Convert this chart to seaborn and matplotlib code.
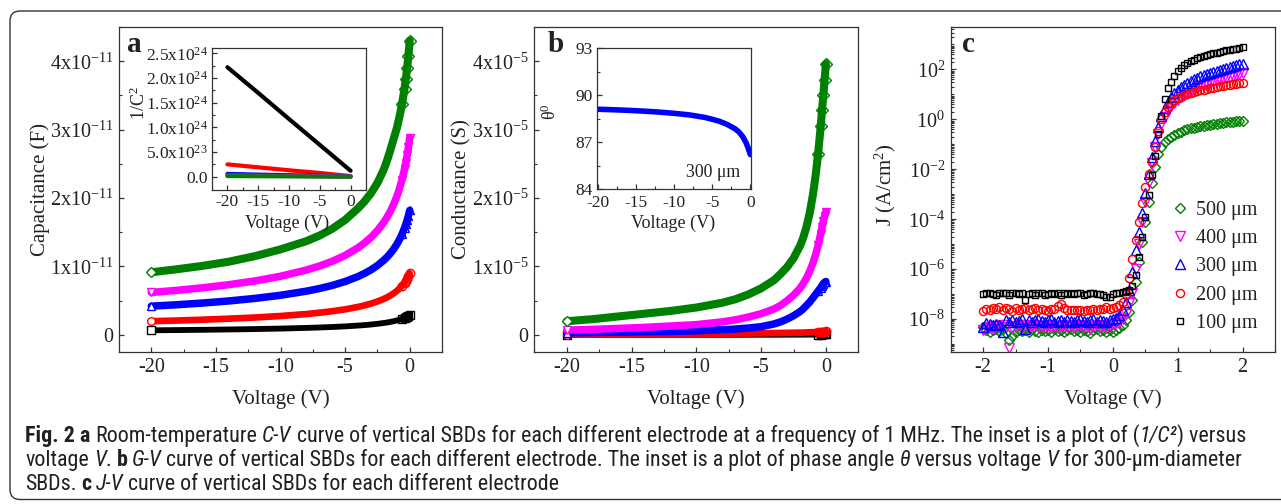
import numpy as np
import matplotlib
matplotlib.use("Agg")
import matplotlib.pyplot as plt
import seaborn as sns
from matplotlib import font_manager as fm
from matplotlib.ticker import MultipleLocator, FixedLocator, FuncFormatter, LogLocator, NullFormatter
from matplotlib.patches import FancyBboxPatch
from matplotlib.transforms import IdentityTransform

# ---------------- data ----------------
labels = ['500 μm', '400 μm', '300 μm', '200 μm', '100 μm']
colors = ['#008000', '#ff00ff', '#0000ff', '#ff0000', '#000000']
markers = ['D', 'v', '^', 'o', 's']

# (a) C-V, capacitance in units of 1e-11 F
V_cv = [-20, -18, -16, -14, -12, -10, -8, -7, -6, -5, -4, -3.5, -3, -2.5, -2,
        -1.75, -1.5, -1.25, -1, -0.8, -0.6, -0.4, -0.3, -0.2, -0.1, 0]
cap_500 = [0.915, 0.96, 1.01, 1.07, 1.15, 1.25, 1.37, 1.45, 1.55, 1.68, 1.85, 1.95, 2.07,
           2.22, 2.42, 2.55, 2.70, 2.86, 3.02, 3.18, 3.37, 3.60, 3.74, 3.90, 4.08, 4.30]
cap_400 = [0.62, 0.652, 0.689, 0.734, 0.788, 0.857, 0.948, 1.006, 1.075, 1.162, 1.273, 1.343,
           1.425, 1.524, 1.647, 1.721, 1.806, 1.905, 2.022, 2.133, 2.265, 2.424, 2.517, 2.622,
           2.742, 2.88]
cap_300 = [0.42, 0.441, 0.466, 0.496, 0.533, 0.579, 0.639, 0.677, 0.723, 0.780, 0.853, 0.898,
           0.950, 1.014, 1.092, 1.138, 1.191, 1.252, 1.324, 1.391, 1.470, 1.563, 1.617, 1.677,
           1.744, 1.82]
cap_200 = [0.20, 0.210, 0.222, 0.237, 0.254, 0.276, 0.305, 0.324, 0.346, 0.373, 0.409, 0.431,
           0.457, 0.488, 0.526, 0.549, 0.576, 0.606, 0.642, 0.677, 0.717, 0.765, 0.793, 0.824,
           0.859, 0.90]
cap_100 = [0.067, 0.0705, 0.0745, 0.0793, 0.0851, 0.0924, 0.1021, 0.1081, 0.1155, 0.1245,
           0.1361, 0.1432, 0.1516, 0.1617, 0.1741, 0.1814, 0.1898, 0.1995, 0.2108, 0.2214,
           0.2338, 0.2485, 0.2569, 0.2663, 0.2768, 0.2887]

# (a inset) 1/C^2 in units of 1e24
V_inv = [-20, -15, -10, -5, 0]
invc2_500 = [0.012, 0.009, 0.0064, 0.0034, 0.0005]
invc2_400 = [0.026, 0.020, 0.014, 0.0075, 0.0012]
invc2_300 = [0.057, 0.042, 0.030, 0.016, 0.003]
invc2_200 = [0.25, 0.19, 0.13, 0.075, 0.012]
invc2_100 = [2.22, 1.70, 1.17, 0.645, 0.12]

# (b) G-V, conductance in units of 1e-5 S
cond_500 = [0.20, 0.23, 0.27, 0.31, 0.35, 0.40, 0.47, 0.52, 0.59, 0.68, 0.80, 0.89, 0.99,
            1.12, 1.30, 1.42, 1.58, 1.78, 2.05, 2.32, 2.65, 3.05, 3.28, 3.50, 3.73, 3.96]
cond_400 = [0.07, 0.08, 0.095, 0.11, 0.13, 0.15, 0.19, 0.22, 0.26, 0.31, 0.38, 0.43, 0.50,
            0.58, 0.68, 0.75, 0.83, 0.93, 1.05, 1.17, 1.31, 1.48, 1.57, 1.66, 1.74, 1.80]
cond_300 = [0.03, 0.035, 0.04, 0.045, 0.05, 0.06, 0.075, 0.085, 0.10, 0.12, 0.16, 0.19, 0.23,
            0.28, 0.34, 0.38, 0.43, 0.48, 0.54, 0.59, 0.64, 0.69, 0.72, 0.75, 0.77, 0.78]
cond_200 = [0.005, 0.006, 0.007, 0.009, 0.011, 0.014, 0.017, 0.019, 0.021, 0.024, 0.027,
            0.028, 0.03, 0.031, 0.033, 0.034, 0.036, 0.038, 0.04, 0.042, 0.044, 0.046, 0.047,
            0.048, 0.049, 0.05]
cond_100 = [0.0, 0.0, 0.0, 0.0, 0.001, 0.001, 0.001, 0.001, 0.002, 0.002, 0.002, 0.002, 0.003,
            0.003, 0.003, 0.003, 0.004, 0.004, 0.004, 0.005, 0.005, 0.005, 0.006, 0.006, 0.006,
            0.007]

# (b inset) phase angle of the 300 um diode
V_theta = [-20, -18, -16, -14, -12, -10, -8, -6, -5, -4, -3, -2, -1.5, -1, -0.6, -0.3, 0]
theta_300 = [89.10, 89.07, 89.03, 88.98, 88.92, 88.84, 88.74, 88.58, 88.46, 88.32, 88.12,
             87.85, 87.65, 87.35, 87.00, 86.65, 86.20]

# (c) J-V, log10(J / A cm^-2), V from -2 to 2 in 0.05 V steps
V_jv = np.linspace(-2.0, 2.0, 81)
logJ_500 = [-8.3, -8.42, -8.5, -8.45, -8.38, -8.48, -8.4, -8.55, -8.85, -8.68,
            -8.5, -8.42, -8.48, -8.45, -8.52, -8.4, -8.46, -8.5, -8.42, -8.48,
            -8.44, -8.52, -8.4, -8.47, -8.43, -8.5, -8.45, -8.4, -8.48, -8.44,
            -8.5, -8.42, -8.46, -8.55, -8.45, -8.4, -8.48, -8.45, -8.5, -8.43,
            -8.52, -8.45, -8.35,
            -8.25, -8.05, -7.7, -7.25, -6.5, -5.7, -4.9, -4.1, -3.3, -2.55,
            -1.9, -1.4, -1.1, -0.9, -0.8, -0.72, -0.62, -0.55, -0.49, -0.44,
            -0.4, -0.36, -0.33, -0.3, -0.27, -0.25, -0.23, -0.21, -0.19, -0.17,
            -0.15, -0.13, -0.12, -0.1, -0.09, -0.07, -0.06, -0.05]
logJ_400 = [-8.45, -8.35, -8.3, -8.4, -8.28, -8.32, -8.25, -8.3, -9.15, -8.35,
            -8.28, -8.22, -8.3, -8.25, -8.33, -8.28, -8.22, -8.3, -8.26, -8.32,
            -8.24, -8.3, -8.27, -8.35, -8.28, -8.22, -8.3, -8.25, -8.32, -8.28,
            -8.24, -8.3, -8.27, -8.38, -8.3, -8.25, -8.33, -8.28, -8.35, -8.25,
            -8.2, -8.15, -8.1,
            -8.0, -7.8, -7.35, -6.95, -6.0, -5.0, -4.1, -3.3, -2.5, -1.75,
            -1.1, -0.6, -0.2, 0.1, 0.35, 0.52, 0.67, 0.78, 0.88, 0.97,
            1.05, 1.12, 1.19, 1.25, 1.31, 1.36, 1.41, 1.46, 1.5, 1.54,
            1.58, 1.62, 1.66, 1.7, 1.74, 1.78, 1.82, 1.86]
logJ_300 = [-8.32, -8.15, -8.2, -8.22, -8.18, -8.25, -8.5, -8.05, -8.1, -8.02,
            -8.12, -8.08, -8.0, -8.4, -8.05, -8.1, -8.03, -7.98, -8.08, -8.12,
            -8.05, -8.0, -8.1, -8.06, -8.02, -8.1, -8.04, -8.08, -8.12, -8.05,
            -8.0, -8.08, -8.1, -8.03, -8.0, -8.1, -8.05, -8.08, -8.12, -8.02,
            -7.98, -7.95, -7.85,
            -7.65, -7.3, -6.85, -6.1, -5.25, -4.5, -3.75, -2.95, -2.2, -1.5,
            -0.85, -0.3, 0.15, 0.45, 0.68, 0.88, 1.04, 1.17, 1.28, 1.38,
            1.46, 1.53, 1.6, 1.66, 1.72, 1.77, 1.82, 1.87, 1.91, 1.95,
            1.99, 2.03, 2.06, 2.1, 2.13, 2.17, 2.2, 2.23]
logJ_200 = [-7.68, -7.58, -7.62, -7.55, -7.6, -7.52, -7.63, -7.57, -7.6, -7.66,
            -7.55, -7.62, -7.58, -7.54, -7.63, -7.6, -7.56, -7.65, -7.59, -7.62,
            -7.66, -7.6, -7.58, -7.48, -7.4, -7.55, -7.63, -7.65, -7.62, -7.64,
            -7.63, -7.66, -7.62, -7.64, -7.6, -7.63, -7.58, -7.61, -7.52, -7.6,
            -7.55, -7.5, -7.45,
            -7.3, -7.0, -6.35, -5.6, -4.85, -4.1, -3.35, -2.72, -2.2, -1.7,
            -1.1, -0.45, 0.0, 0.3, 0.5, 0.65, 0.76, 0.84, 0.91, 0.97,
            1.02, 1.06, 1.1, 1.13, 1.16, 1.19, 1.22, 1.25, 1.27, 1.3,
            1.32, 1.34, 1.36, 1.38, 1.4, 1.42, 1.44, 1.46]
logJ_100 = [-7.0, -6.97, -6.96, -6.98, -7.03, -6.95, -6.94, -6.97, -7.04, -6.96,
            -6.95, -6.99, -6.96, -7.24, -6.98, -6.95, -7.02, -6.97, -6.96, -7.03,
            -6.98, -6.95, -7.0, -6.97, -7.02, -6.96, -6.99, -6.95, -7.01, -6.97,
            -6.96, -7.03, -6.98, -6.97, -6.95, -7.0, -6.99, -7.05, -7.12, -7.1,
            -6.98, -6.95, -6.94,
            -6.92, -6.88, -6.82, -6.68, -6.25, -5.5, -4.7, -3.9, -3.05, -2.23,
            -1.45, -0.6, 0.15, 0.8, 1.25, 1.5, 1.73, 1.92, 2.06, 2.17,
            2.26, 2.33, 2.39, 2.45, 2.5, 2.54, 2.58, 2.61, 2.64, 2.67,
            2.7, 2.73, 2.76, 2.78, 2.81, 2.83, 2.86, 2.88]

# ---------------- style ----------------
sns.set_style("ticks")
INK = '#222222'
plt.rcParams.update({
    'font.family': ['Liberation Serif', 'DejaVu Serif'],
    'mathtext.fontset': 'custom',
    'mathtext.rm': 'Liberation Serif',
    'mathtext.it': 'Liberation Serif:italic',
    'mathtext.bf': 'Liberation Serif:bold',
    'axes.unicode_minus': False,
    'axes.edgecolor': '#333333',
    'axes.linewidth': 0.9,
    'text.color': INK,
    'axes.labelcolor': INK,
    'xtick.color': '#333333',
    'ytick.color': '#333333',
    'xtick.labelcolor': INK,
    'ytick.labelcolor': INK,
})

W, H = 1281, 504
fig = plt.figure(figsize=(W / 100, H / 100), dpi=100)
fig.patch.set_facecolor('white')


def ax_px(l, t, r, b):
    return fig.add_axes([l / W, 1 - b / H, (r - l) / W, (b - t) / H])


def style(ax, size, xmaj, xmin, ymaj=None, ymin=None, pad=4):
    ax.tick_params(which='both', direction='in', top=False, right=False,
                   labelsize=size, pad=pad)
    ax.tick_params(which='major', length=3.8, width=0.9)
    ax.tick_params(which='minor', length=2.2, width=0.8)
    ax.xaxis.set_major_locator(MultipleLocator(xmaj))
    ax.xaxis.set_minor_locator(MultipleLocator(xmin))
    if ymaj is not None:
        ax.yaxis.set_major_locator(MultipleLocator(ymaj))
        ax.yaxis.set_minor_locator(MultipleLocator(ymin))
    for s in ax.spines.values():
        s.set_visible(True)
        s.set_linewidth(0.9)
        s.set_color('#333333')


def sci_fmt(exp):
    def f(v, p):
        if abs(v) < 1e-40:
            return '0'
        return f"{v / 10 ** exp:.0f}x10$^{{{exp}}}$"
    return FuncFormatter(f)


def inv_fmt(v, p):
    if v <= 1e10:
        return '0.0' if abs(v) <= 1e10 else ''
    e = int(np.floor(np.log10(v) + 1e-9))
    return f"{v / 10 ** e:.1f}x10$^{{{e}}}$"


axA = ax_px(119, 27, 442, 352)
axB = ax_px(534.3, 27, 858.3, 352)
axC = ax_px(950.7, 27, 1275, 352)

TICK = 14.5
LAB = 15

# ---------------- panel a ----------------
cap_sets = [cap_500, cap_400, cap_300, cap_200, cap_100]
lws = [5.8, 5.4, 5.4, 4.8, 4.2]
for vals, c, m, lw in zip(cap_sets, colors, markers, lws):
    y = np.array(vals) * 1e-11
    sns.lineplot(x=V_cv, y=y, ax=axA, color=c, lw=lw, solid_capstyle='round',
                 marker=m, markersize=6, markerfacecolor='none', markeredgecolor=c,
                 markeredgewidth=1.0, markevery=list(range(20, len(V_cv))),
                 estimator=None, sort=False, legend=False)
    sns.lineplot(x=V_cv[:1], y=y[:1], ax=axA, color=c, lw=0, marker=m, markersize=5.5,
                 markerfacecolor='white', markeredgecolor=c, markeredgewidth=1.0,
                 estimator=None, sort=False, legend=False)
axA.set_xlim(-22.5, 2.5)
axA.set_ylim(-0.25e-11, 4.5e-11)
style(axA, TICK, 5, 2.5, 1e-11, 0.5e-11)
axA.yaxis.set_major_formatter(sci_fmt(-11))
axA.set_xlabel('Voltage (V)', fontsize=LAB)
axA.set_ylabel('Capacitance (F)', fontsize=LAB)
axA.xaxis.set_label_coords(0.5, -0.114)
axA.yaxis.set_label_coords(-0.215, 0.5)
axA.text(0.024, 0.923, 'a', transform=axA.transAxes, fontsize=21, fontweight='bold',
         va='baseline', ha='left')

# inset a
insA = ax_px(212, 48, 366, 190)
inv_sets = [invc2_100, invc2_200, invc2_300, invc2_400, invc2_500]
inv_cols = [colors[4], colors[3], colors[2], colors[1], colors[0]]
for vals, c in zip(inv_sets, inv_cols):
    sns.lineplot(x=V_inv, y=np.array(vals) * 1e24, ax=insA, color=c, lw=3.0,
                 solid_capstyle='round', estimator=None, sort=False, legend=False)
insA.set_xlim(-22.5, 2.5)
insA.set_ylim(-0.27e24, 2.61e24)
style(insA, 12.5, 5, 2.5, pad=3)
insA.yaxis.set_major_locator(FixedLocator([0.0, 0.5e24, 1.0e24, 1.5e24, 2.0e24, 2.5e24]))
insA.yaxis.set_minor_locator(FixedLocator([0.25e24, 0.75e24, 1.25e24, 1.75e24, 2.25e24]))
insA.yaxis.set_major_formatter(FuncFormatter(inv_fmt))
insA.set_xlabel('Voltage (V)', fontsize=13)
insA.set_ylabel('1/C$^{\\mathrm{2}}$', fontsize=13)
insA.xaxis.set_label_coords(0.485, -0.176)
insA.yaxis.set_label_coords(-0.41, 0.613)

# ---------------- panel b ----------------
cond_sets = [cond_100, cond_200, cond_300, cond_400, cond_500]
b_cols = [colors[4], colors[3], colors[2], colors[1], colors[0]]
b_mk = [markers[4], markers[3], markers[2], markers[1], markers[0]]
b_lw = [4.2, 4.8, 5.4, 5.4, 5.8]
for vals, c, m, lw in zip(cond_sets, b_cols, b_mk, b_lw):
    y = np.array(vals) * 1e-5
    sns.lineplot(x=V_cv, y=y, ax=axB, color=c, lw=lw, solid_capstyle='round',
                 marker=m, markersize=6, markerfacecolor='none', markeredgecolor=c,
                 markeredgewidth=1.0, markevery=list(range(20, len(V_cv))),
                 estimator=None, sort=False, legend=False)
    sns.lineplot(x=V_cv[:1], y=y[:1], ax=axB, color=c, lw=0, marker=m, markersize=5.5,
                 markerfacecolor='white', markeredgecolor=c, markeredgewidth=1.0,
                 estimator=None, sort=False, legend=False)
axB.set_xlim(-22.5, 2.5)
axB.set_ylim(-0.25e-5, 4.5e-5)
style(axB, TICK, 5, 2.5, 1e-5, 0.5e-5)
axB.yaxis.set_major_formatter(sci_fmt(-5))
axB.set_xlabel('Voltage (V)', fontsize=LAB)
axB.set_ylabel('Conductance (S)', fontsize=LAB)
axB.xaxis.set_label_coords(0.5, -0.114)
axB.yaxis.set_label_coords(-0.195, 0.5)
axB.text(0.04, 0.923, 'b', transform=axB.transAxes, fontsize=21, fontweight='bold',
         va='baseline', ha='left')

# inset b
insB = ax_px(596.7, 48.3, 750.7, 189)
sns.lineplot(x=V_theta, y=theta_300, ax=insB, color=colors[2], lw=4.0,
             solid_capstyle='round', estimator=None, sort=False, legend=False)
insB.set_xlim(-20.2, 0.05)
insB.set_ylim(84, 93)
style(insB, 12.5, 5, 2.5, pad=3)
insB.tick_params(axis='x', pad=4)
insB.yaxis.set_major_locator(FixedLocator([84, 87, 90, 93]))
insB.yaxis.set_minor_locator(MultipleLocator(1.5))
insB.set_xlabel('Voltage (V)', fontsize=13)
insB.set_ylabel('θ$^{\\mathrm{0}}$', fontsize=13)
insB.xaxis.set_label_coords(0.497, -0.185)
insB.yaxis.set_label_coords(-0.238, 0.55)
insB.text(0.757, 0.116, '300 μm', transform=insB.transAxes, fontsize=12.8,
          ha='center', va='center')

# ---------------- panel c ----------------
axC.set_yscale('log')
J_sets = [logJ_500, logJ_400, logJ_300, logJ_200, logJ_100]
msz = [5.2, 6.5, 6.5, 5.8, 5.0]
for vals, c, m, lab, ms in zip(J_sets, colors, markers, labels, msz):
    sns.lineplot(x=V_jv, y=10.0 ** np.array(vals), ax=axC, color=c, linestyle='',
                 marker=m, markersize=ms, markerfacecolor='none', markeredgecolor=c,
                 markeredgewidth=1.0, label=lab, estimator=None, sort=False)
axC.set_xlim(-2.5, 2.5)
axC.set_ylim(10 ** -9.32, 10 ** 3.7)
style(axC, TICK, 1, 0.5)
axC.yaxis.set_major_locator(FixedLocator(10.0 ** np.arange(-8, 3, 2)))
axC.yaxis.set_major_formatter(FuncFormatter(lambda v, p: f"10$^{{{int(round(np.log10(v)))}}}$"))
axC.yaxis.set_minor_locator(LogLocator(base=10, subs=np.arange(1, 10), numticks=60))
axC.yaxis.set_minor_formatter(NullFormatter())
axC.set_xlabel('Voltage (V)', fontsize=LAB)
axC.set_ylabel('J (A/cm$^{\\mathrm{2}}$)', fontsize=LAB)
axC.xaxis.set_label_coords(0.5, -0.114)
axC.yaxis.set_label_coords(-0.162, 0.514)
axC.text(0.034, 0.923, 'c', transform=axC.transAxes, fontsize=21, fontweight='bold',
         va='baseline', ha='left')
axC.legend(loc='center left', bbox_to_anchor=(0.676, 0.262), frameon=False,
           fontsize=14.5, handlelength=1.0, handletextpad=0.3, labelspacing=0.45,
           borderpad=0, borderaxespad=0)

# ---------------- frame + caption ----------------
frame = FancyBboxPatch((10, 4.5), 1300, 488.5, boxstyle='round,pad=0,rounding_size=10',
                       transform=IdentityTransform(), fill=False, ec='#333333', lw=1.0)
fig.patches.append(frame)

names = {f.name for f in fm.fontManager.ttflist}
cap_family = next((n for n in ['Liberation Sans Narrow', 'Roboto Condensed',
                               'Open Sans Condensed', 'Noto Sans Condensed',
                               'Liberation Sans'] if n in names), 'DejaVu Sans')
renderer = fig.canvas.get_renderer()
CAPC = '#231f20'
N, B, I = 'normal', 'bold', 'italic'

# (text, weight, style, extra pixel shift before the run)
line1 = [("Fig. 2 a", B, N, 0), (" Room-temperature ", N, N, 0), ("C-V", N, I, 0),
         (" curve of vertical SBDs for each different electrode at a frequency of 1 MHz. "
          "The inset is a plot of (", N, N, 0), ("1/C²", N, I, 0), (") versus", N, N, 0)]
line2 = [("voltage ", N, N, 0), ("V", N, I, 0), (". ", N, N, 0), ("b", B, N, 0),
         (" G-V", N, I, -0.8),
         (" curve of vertical SBDs for each different electrode. The inset is a plot of "
          "phase angle ", N, N, 0), ("θ", N, I, 0), (" versus voltage ", N, N, 0),
         ("V", N, I, 0), (" for 300-μm-diameter", N, N, 0)]
line3 = [("SBDs. ", N, N, 0), ("c", B, N, 0), (" J-V", N, I, -0.8),
         (" curve of vertical SBDs for each different electrode", N, N, 0)]


def space_width(size, weight):
    t1 = fig.text(0.5, 0.5, 'x x', fontsize=size, family=cap_family, fontweight=weight)
    t2 = fig.text(0.5, 0.5, 'xx', fontsize=size, family=cap_family, fontweight=weight)
    w = t1.get_window_extent(renderer).width - t2.get_window_extent(renderer).width
    t1.remove()
    t2.remove()
    return w


def put_runs(runs, x_px, y_px, size, keep=True):
    x = x_px
    sw = space_width(size, 'normal')
    made = []
    for txt, wt, st, dx in runs:
        lead = len(txt) - len(txt.lstrip(' '))
        trail = len(txt) - len(txt.rstrip(' '))
        core = txt.strip(' ')
        x += lead * sw + dx
        if core:
            t = fig.text(x / W, 1 - y_px / H, core, fontsize=size, family=cap_family,
                         fontweight=wt, fontstyle=st, color=CAPC, ha='left', va='baseline')
            x += t.get_window_extent(renderer).width
            made.append(t)
        x += trail * sw
    if not keep:
        for t in made:
            t.remove()
    return x - x_px


w0 = put_runs(line1, 25, 442, 12, keep=False)
cap_size = 12 * 1225 / w0
put_runs(line1, 25, 442, cap_size)
put_runs(line2, 25, 466, cap_size)
put_runs(line3, 25, 490, cap_size)

fig.savefig('out.png', dpi=100, facecolor='white')
